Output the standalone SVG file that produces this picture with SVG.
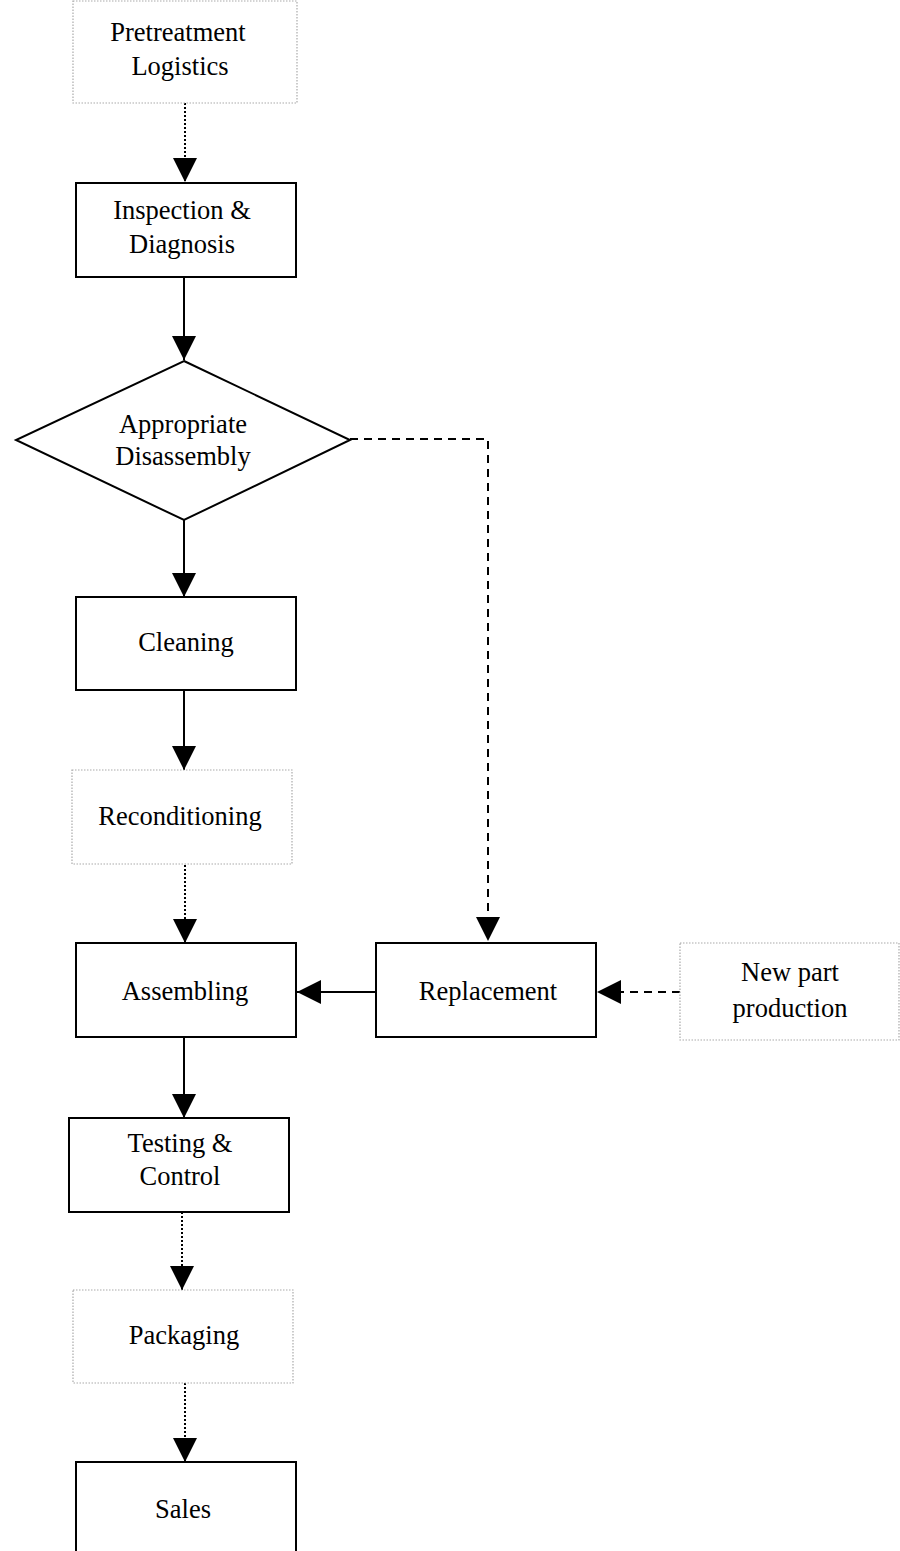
<svg xmlns="http://www.w3.org/2000/svg" width="900" height="1551" viewBox="0 0 900 1551">
<style>
.box{fill:#fff;stroke:#000;stroke-width:2}
.dbox{fill:#fff;stroke:#aaa;stroke-width:1.2;stroke-dasharray:1.5,1.5}
.t{font-family:"Liberation Serif","Times New Roman",serif;font-size:26.5px;fill:#000;text-anchor:middle}
.c{fill:none;stroke:#000;stroke-width:2}
.dot{stroke-dasharray:2,2}
.dash{stroke-dasharray:8,6}
</style>
<defs>
<marker id="ah" markerUnits="userSpaceOnUse" markerWidth="24" markerHeight="24" viewBox="0 0 22 22" refX="22" refY="11" orient="auto">
<path d="M0,0 L22,11 L0,22 Z" fill="#000"/>
</marker>
</defs>
<rect width="900" height="1551" fill="#fff"/>
<g id="connectors">
<line class="c dot" x1="185" y1="103" x2="185" y2="182" marker-end="url(#ah)"/>
<line class="c" x1="184" y1="278" x2="184" y2="360" marker-end="url(#ah)"/>
<polyline class="c dash" points="350,439 488,439 488,941" marker-end="url(#ah)"/>
<line class="c" x1="184" y1="520" x2="184" y2="597" marker-end="url(#ah)"/>
<line class="c" x1="184" y1="690" x2="184" y2="770" marker-end="url(#ah)"/>
<line class="c dot" x1="185" y1="865" x2="185" y2="943" marker-end="url(#ah)"/>
<line class="c" x1="378" y1="992" x2="297" y2="992" marker-end="url(#ah)"/>
<line class="c dash" x1="680" y1="992" x2="597" y2="992" marker-end="url(#ah)"/>
<line class="c" x1="184" y1="1038" x2="184" y2="1118" marker-end="url(#ah)"/>
<line class="c dot" x1="182" y1="1212" x2="182" y2="1290" marker-end="url(#ah)"/>
<line class="c dot" x1="185" y1="1383" x2="185" y2="1462" marker-end="url(#ah)"/>
</g>
<g id="pretreatment">
<rect class="dbox" x="73" y="1" width="224" height="102"/>
<text class="t" x="178" y="41">Pretreatment</text>
<text class="t" x="180" y="75">Logistics</text>
</g>
<g id="inspection">
<rect class="box" x="76" y="183" width="220" height="94"/>
<text class="t" x="182" y="219">Inspection &amp;</text>
<text class="t" x="182" y="253">Diagnosis</text>
</g>
<g id="disassembly">
<polygon class="box" points="184,361 350,440 184,520 16,440"/>
<text class="t" x="183" y="433">Appropriate</text>
<text class="t" x="183" y="465">Disassembly</text>
</g>
<g id="cleaning">
<rect class="box" x="76" y="597" width="220" height="93"/>
<text class="t" x="186" y="651">Cleaning</text>
</g>
<g id="reconditioning">
<rect class="dbox" x="72" y="770" width="220" height="94"/>
<text class="t" x="180" y="825">Reconditioning</text>
</g>
<g id="assembling">
<rect class="box" x="76" y="943" width="220" height="94"/>
<text class="t" x="185" y="1000">Assembling</text>
</g>
<g id="replacement">
<rect class="box" x="376" y="943" width="220" height="94"/>
<text class="t" x="488" y="1000">Replacement</text>
</g>
<g id="newpart">
<rect class="dbox" x="680" y="943" width="219" height="97"/>
<text class="t" x="790" y="981">New part</text>
<text class="t" x="790" y="1017">production</text>
</g>
<g id="testing">
<rect class="box" x="69" y="1118" width="220" height="94"/>
<text class="t" x="180" y="1152">Testing &amp;</text>
<text class="t" x="180" y="1185">Control</text>
</g>
<g id="packaging">
<rect class="dbox" x="73" y="1290" width="220" height="93"/>
<text class="t" x="184" y="1344">Packaging</text>
</g>
<g id="sales">
<rect class="box" x="76" y="1462" width="220" height="100"/>
<text class="t" x="183" y="1518">Sales</text>
</g>
</svg>
